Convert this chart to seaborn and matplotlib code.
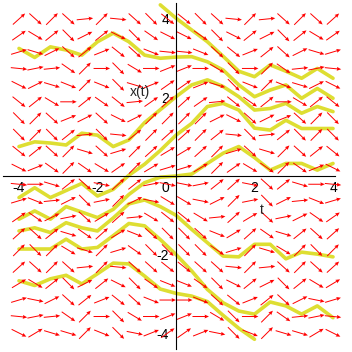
import numpy as np
import matplotlib
matplotlib.use('Agg')
import matplotlib.pyplot as plt
import matplotlib.transforms as mtransforms
import seaborn as sns

# direction field grid (t across, x down from top row)
grid_t = [-4.0, -3.58, -3.16, -2.74, -2.32, -1.89, -1.47, -1.05, -0.63, -0.21,
          0.21, 0.63, 1.05, 1.47, 1.89, 2.32, 2.74, 3.16, 3.58, 4.0]
grid_x = [4.0, 3.58, 3.16, 2.74, 2.32, 1.89, 1.47, 1.05, 0.63, 0.21,
          -0.21, -0.63, -1.05, -1.47, -1.89, -2.32, -2.74, -3.16, -3.58, -4.0]

# slope of each arrow, in tenths (rows = grid_x, cols = grid_t)
slopes_tenths = [
    [9, -9, 10, -9, 1, 10, -1, -9, -10, -8, -8, -10, -9, -1, 10, 1, -9, 10, -9, 9],
    [7, -6, 8, -10, 5, 8, -5, -10, -7, -5, -5, -7, -10, -5, 8, 5, -10, 8, -6, 7],
    [3, -3, 5, -9, 8, 4, -8, -9, -4, -1, -1, -4, -9, -8, 4, 8, -9, 5, -3, 3],
    [-1, 2, 1, -7, 10, 0, -10, -6, 0, 4, 4, 0, -6, -10, 0, 10, -7, 1, 2, -1],
    [-5, 5, -3, -4, 10, -4, -10, -3, 4, 7, 7, 4, -3, -10, -4, 10, -4, -3, 5, -5],
    [-8, 8, -6, 0, 8, -7, -8, 1, 7, 9, 9, 7, 1, -8, -7, 8, 0, -6, 8, -8],
    [-10, 10, -9, 4, 5, -9, -5, 5, 10, 10, 10, 10, 5, -5, -9, 5, 4, -9, 10, -10],
    [-10, 10, -10, 8, 1, -10, -1, 8, 10, 9, 9, 10, 8, -1, -10, 1, 8, -10, 10, -10],
    [-8, 8, -9, 10, -3, -9, 3, 10, 9, 6, 6, 9, 10, 3, -9, -3, 10, -9, 8, -8],
    [-5, 4, -7, 10, -7, -6, 7, 10, 6, 3, 3, 6, 10, 7, -6, -7, 10, -7, 4, -5],
    [-1, 0, -3, 8, -9, -2, 9, 8, 2, -2, -2, 2, 8, 9, -2, -9, 8, -3, 0, -1],
    [3, -4, 1, 5, -10, 2, 10, 5, -2, -6, -6, -2, 5, 10, 2, -10, 5, 1, -4, 3],
    [7, -7, 5, 2, -9, 6, 9, 1, -6, -8, -8, -6, 1, 9, 6, -9, 2, 5, -7, 7],
    [9, -9, 8, -3, -7, 9, 6, -4, -9, -10, -10, -9, -4, 6, 9, -7, -3, 8, -9, 9],
    [10, -10, 10, -6, -3, 10, 3, -7, -10, -10, -10, -10, -7, 3, 10, -3, -6, 10, -10, 10],
    [9, -9, 10, -9, 1, 10, -1, -9, -9, -8, -8, -9, -9, -1, 10, 1, -9, 10, -9, 9],
    [6, -6, 8, -10, 5, 8, -5, -10, -7, -4, -4, -7, -10, -5, 8, 5, -10, 8, -6, 6],
    [3, -2, 5, -9, 8, 4, -8, -9, -4, 0, 0, -4, -9, -8, 4, 8, -9, 5, -2, 3],
    [-1, 2, 1, -7, 10, 0, -10, -6, 0, 4, 4, 0, -6, -10, 0, 10, -7, 1, 2, -1],
    [-5, 6, -3, -3, 10, -4, -10, -2, 4, 7, 7, 4, -2, -10, -4, 10, -3, -3, 6, -5],
]

# solution curves, sampled at these t values
curve_t = [-4.0, -3.6, -3.2, -2.8, -2.4, -2.0, -1.6, -1.2, -0.8, -0.4, 0.0,
           0.4, 0.8, 1.2, 1.6, 2.0, 2.4, 2.8, 3.2, 3.6, 4.0]
nan = float('nan')
curve_x4 = [nan, nan, nan, nan, nan, nan, nan, nan, nan, 4.36, 4.02,
            3.72, 3.42, 3.05, 2.67, 2.53, 2.83, 2.67, 2.49, 2.74, 2.49]
curve_x3 = [3.25, 3.02, 3.29, 3.21, 3.08, 3.42, 3.64, 3.42, 3.08, 3.00, 3.03,
            3.04, 2.91, 2.70, 2.32, 2.02, 2.19, 2.32, 1.98, 2.23, 1.98]
curve_x2 = [0.75, 0.87, 0.84, 0.79, 1.09, 1.04, 0.75, 0.92, 1.36, 1.69, 2.02,
            2.32, 2.45, 2.28, 2.02, 1.68, 1.72, 1.85, 1.60, 1.77, 1.64]
curve_x1 = [-0.55, -0.30, -0.55, -0.37, -0.19, -0.51, -0.34, 0.02, 0.30, 0.65, 1.04,
            1.34, 1.77, 1.85, 1.68, 1.22, 1.17, 1.42, 1.21, 1.21, 1.21]
curve_x0 = [-1.10, -0.89, -1.10, -0.78, -0.92, -1.06, -0.85, -0.47, -0.17, -0.03, 0.0,
            0.05, 0.32, 0.58, 0.75, 0.47, 0.15, 0.32, 0.32, 0.15, 0.32]
curve_xm1 = [-1.40, -1.32, -1.44, -1.19, -1.32, -1.40, -1.07, -0.71, -0.61, -0.78, -1.00,
             -1.36, -1.70, -2.04, -2.06, -1.74, -1.74, -2.11, -1.94, -1.99, -2.06]
curve_xm2 = [-1.86, -1.86, -1.86, -1.61, -1.86, -1.82, -1.52, -1.21, -1.27, -1.62, -2.00,
             -2.42, -2.89, -3.23, -3.44, -3.52, -3.21, -3.31, -3.52, -3.31, -3.61]
curve_xm3 = [-2.67, -2.79, -2.62, -2.53, -2.75, -2.49, -2.22, -2.24, -2.55, -2.88, -2.99,
             -3.06, -3.20, -3.55, -3.88, -4.16, nan, nan, nan, nan, nan]
curves = [curve_x4, curve_x3, curve_x2, curve_x1, curve_x0, curve_xm1, curve_xm2, curve_xm3]

tick_labels = [-4, -2, 0, 2, 4]

if __name__ == '__main__':
    sns.set_style('white')
    plt.rcParams['font.family'] = ['Liberation Sans', 'DejaVu Sans']

    fig = plt.figure(figsize=(3.52, 3.52), dpi=100)
    ax = fig.add_axes([0, 0, 1, 1])

    # solution curves
    for xs in curves:
        df = {'t': [], 'x': []}
        for t, x in zip(curve_t, xs):
            if not np.isnan(x):
                df['t'].append(t)
                df['x'].append(x)
        sns.lineplot(x=df['t'], y=df['x'], ax=ax, sort=False, estimator=None,
                     color='#dede32', lw=2.6, legend=False, zorder=2)

    # direction field
    T, X = np.meshgrid(grid_t, grid_x)
    S = np.array(slopes_tenths) / 10.0
    L = 0.42
    U = L / np.sqrt(1 + S ** 2)
    V = S * U
    ax.quiver(T, X, U, V, angles='xy', scale_units='xy', scale=1, pivot='middle',
              color='red', width=0.0028, headwidth=4, headlength=4.5,
              headaxislength=4, zorder=3)

    lim = 4.484
    ax.set_xlim(-lim, lim)
    ax.set_ylim(-lim, lim)

    for s in ['top', 'right']:
        ax.spines[s].set_visible(False)
    ax.spines['left'].set_position('zero')
    ax.spines['bottom'].set_position('zero')
    ax.spines['left'].set_bounds(-4.4, 4.4)
    ax.spines['bottom'].set_bounds(-4.4, 4.05)
    for s in ['left', 'bottom']:
        ax.spines[s].set_color('black')
        ax.spines[s].set_linewidth(0.8)
        ax.spines[s].set_zorder(4)

    minor = np.arange(-11, 12) * 0.4
    ax.set_xticks([v for v in minor if -4.4 <= v <= 4.05], minor=True)
    ax.set_yticks(minor, minor=True)
    ax.set_xticks(tick_labels)
    ax.set_xticklabels([str(v) for v in tick_labels])
    yt = [v for v in tick_labels if v != 0]
    ax.set_yticks(yt)
    ax.set_yticklabels([str(v) for v in yt])

    ax.tick_params(axis='x', which='both', direction='out', length=3, width=0.8,
                   pad=0.5, labelsize=10, colors='black')
    ax.tick_params(axis='y', which='both', direction='in', length=3.5, width=0.8,
                   pad=5, labelsize=10, colors='black')

    for lab in ax.get_xticklabels():
        if lab.get_text() == '0':
            lab.set_transform(lab.get_transform() +
                              mtransforms.ScaledTranslation(-0.11, 0, fig.dpi_scale_trans))

    ax.text(-0.93, 2.15, 'x(t)', ha='center', va='center', fontsize=10)
    ax.text(2.18, -0.87, 't', ha='center', va='center', fontsize=10)

    fig.savefig('out.png', dpi=100, facecolor='white')
